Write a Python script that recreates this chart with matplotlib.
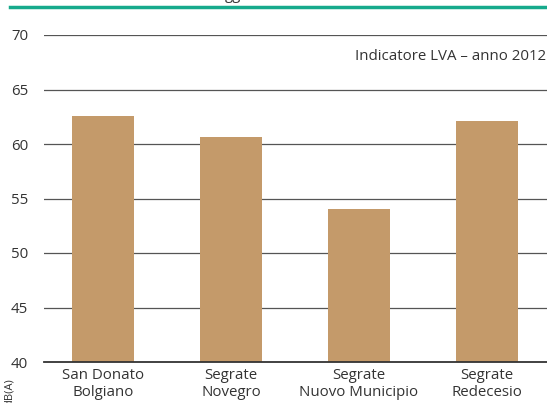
import matplotlib.pyplot as plt
from matplotlib.lines import Line2D

plt.rcParams['font.family'] = ['Open Sans', 'DejaVu Sans']

stazioni = ["San Donato\nBolgiano", "Segrate\nNovegro", "Segrate\nNuovo Municipio", "Segrate\nRedecesio"]
lva = [62.6, 60.6, 54.0, 62.1]
yticks = [40, 45, 50, 55, 60, 65, 70]

fig = plt.figure(figsize=(5.47, 4.03), dpi=100)
ax = fig.add_axes([44/547, 1 - 362/403, 1 - 44/547, 327/403])

ax.bar(range(len(stazioni)), lva, width=0.49, color="#c49a6a", zorder=2)
ax.set_xlim(-0.461, 3.469)
ax.set_ylim(40, 70)
ax.set_yticks(yticks)
ax.set_xticks(range(len(stazioni)))
ax.set_xticklabels(stazioni, fontsize=10.8, color="#333333", linespacing=1.2)
ax.tick_params(axis="y", length=0, pad=11.5, labelsize=10.8, labelcolor="#333333")
ax.tick_params(axis="x", length=0, pad=4)
for v in yticks[1:]:
    ax.axhline(v, color="#555555", lw=0.9, zorder=1)
for s in ["top", "right", "left"]:
    ax.spines[s].set_visible(False)
ax.spines["bottom"].set_color("#333333")
ax.spines["bottom"].set_linewidth(1.3)

ax.text(0.998, 0.935, "Indicatore LVA – anno 2012", transform=ax.transAxes,
        ha="right", va="center", fontsize=10.8, color="#333333")

fig.text(0.018, 1 - 392/403, "dB(A)", rotation=90, ha="center", va="center",
         fontsize=8, color="#333333")
fig.add_artist(Line2D([10/547, 1], [1 - 7/403, 1 - 7/403], color="#16aa8c", lw=2.5))
fig.text(233/547, 1.003, "gg", ha="center", va="baseline", fontsize=10.8, color="#333333")

fig.savefig("out.png", dpi=100)
